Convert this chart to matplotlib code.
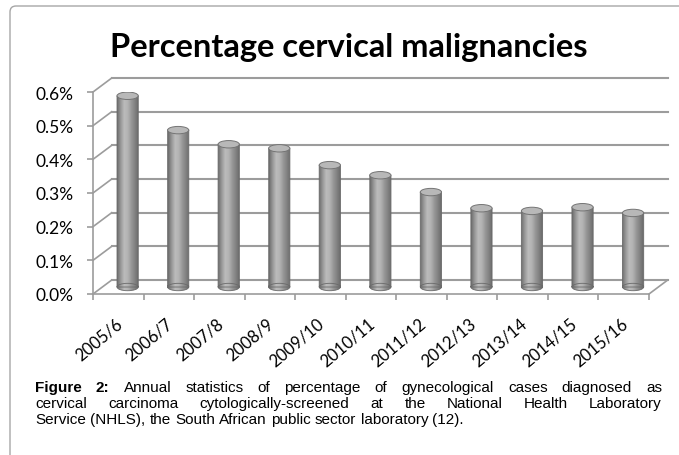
import numpy as np
import matplotlib.pyplot as plt
from matplotlib.path import Path
from matplotlib.patches import PathPatch, Ellipse
from matplotlib.transforms import Affine2D
from matplotlib.colors import LinearSegmentedColormap

# data (values in percent)
categories = ["2005/6", "2006/7", "2007/8", "2008/9", "2009/10", "2010/11",
              "2011/12", "2012/13", "2013/14", "2014/15", "2015/16"]
values = [0.568, 0.466, 0.424, 0.412, 0.362, 0.332, 0.282, 0.234, 0.226, 0.237, 0.220]
y_ticks = [0.0, 0.1, 0.2, 0.3, 0.4, 0.5, 0.6]

title = "Percentage cervical malignancies"
caption_lines = [
    "Figure 2: Annual statistics of percentage of gynecological cases diagnosed as",
    "cervical carcinoma cytologically-screened at the National Health Laboratory",
    "Service (NHLS), the South African public sector laboratory (12).",
]

W, H = 679, 456
GRID = "#9c9c9c"
DEPTH_X = 0.37     # 3d depth offset, in categories
DEPTH_Y = 0.0415   # 3d depth offset, in percent
BAR_W = 0.42
ELL_H = 0.022

chart_font = ["Lato", "DejaVu Sans"]
caption_font = ["Liberation Sans Narrow", "Liberation Sans", "DejaVu Sans"]
CAP_SIZE = 11

fig = plt.figure(figsize=(W / 100, H / 100), dpi=100)
fig.patch.set_facecolor("white")

# outer frame (rounded top-left corner, runs off right and bottom)
r = 6
frame = Path([(W + 5, H - 7), (10 + r, H - 7), (10, H - 7), (10, H - 7 - r), (10, -5)],
             [Path.MOVETO, Path.LINETO, Path.CURVE3, Path.CURVE3, Path.LINETO])
fig.patches.append(PathPatch(frame, transform=None, fill=False, edgecolor="#a6a6a6", lw=1.0))

ax = fig.add_axes([93 / W, 1 - 295 / H, 556 / W, 202 / H])
ax.set_autoscale_on(False)
n = len(categories)
ax.set_xlim(-0.5, n - 0.5)
ax.set_ylim(0, max(y_ticks))
ax.patch.set_visible(False)

# back wall gridlines + side wall diagonals
x_left, x_right = -0.5, n - 0.5
for t in y_ticks:
    ax.plot([x_left + DEPTH_X, x_right + DEPTH_X], [t + DEPTH_Y, t + DEPTH_Y],
            color=GRID, lw=1.5, clip_on=False, zorder=1)
    ax.plot([x_left, x_left + DEPTH_X], [t, t + DEPTH_Y], color=GRID, lw=1.2,
            clip_on=False, zorder=1)
# floor right edge
ax.plot([x_right, x_right + DEPTH_X], [0, DEPTH_Y], color=GRID, lw=1.2, clip_on=False, zorder=1)

for s in ["top", "right"]:
    ax.spines[s].set_visible(False)
for s in ["left", "bottom"]:
    ax.spines[s].set_color(GRID)
    ax.spines[s].set_linewidth(1.2)

ax.set_yticks(y_ticks)
ax.set_yticklabels([f"{t:.1f}%" for t in y_ticks], fontsize=12.5, family=chart_font)
ax.tick_params(axis="y", length=4, width=1.2, color=GRID, pad=10)

ax.set_xticks(np.arange(n + 1) - 0.5)
ax.set_xticklabels([])
ax.tick_params(axis="x", which="major", length=4, width=1.2, color=GRID)
ax.set_xticks(np.arange(n) - 0.07, minor=True)
ax.set_xticklabels(categories, minor=True, rotation=40, ha="right",
                   rotation_mode="anchor", fontsize=12, family=chart_font)
ax.tick_params(axis="x", which="minor", length=0, pad=15)

# cylinders
cyl_cmap = LinearSegmentedColormap.from_list(
    "cyl", ["#6c6c6c", "#999999", "#bcbcbc", "#b2b2b2", "#969696", "#808080", "#686868"])
grad = np.linspace(0, 1, 64).reshape(1, -1)
for i, v in enumerate(values):
    cx = i + DEPTH_X / 2
    base = DEPTH_Y / 2
    top = v + DEPTH_Y / 2
    rect = Path.unit_rectangle().transformed(
        Affine2D().scale(BAR_W, top - base).translate(cx - BAR_W / 2, base))
    bottom = Path.unit_circle().transformed(
        Affine2D().scale(BAR_W / 2, ELL_H / 2).translate(cx, base))
    body = Path.make_compound_path(rect, bottom)
    patch = PathPatch(body, facecolor="none", edgecolor="#6a6a6a", lw=0.6, zorder=3)
    ax.add_patch(patch)
    im = ax.imshow(grad, cmap=cyl_cmap, aspect="auto", interpolation="bilinear",
                   extent=[cx - BAR_W / 2, cx + BAR_W / 2, base - ELL_H / 2, top],
                   zorder=2, clip_on=True)
    im.set_clip_path(patch)
    ax.add_patch(Ellipse((cx, top), BAR_W, ELL_H, facecolor="#b8b8b8",
                         edgecolor="#747474", lw=0.7, zorder=4))

ax.set_xlim(-0.5, n - 0.5)
ax.set_ylim(0, max(y_ticks))

fig.text(349 / W, 1 - 47 / H, title, ha="center", va="center", fontsize=23.5,
         fontweight="bold", family=chart_font)

# caption, justified like the source
renderer = fig.canvas.get_renderer()
cap_x0, cap_x1 = 35, 662
cap_base = [392, 408, 424]
for k, line in enumerate(caption_lines):
    words = line.split(" ")
    texts, widths = [], []
    for j, w in enumerate(words):
        bold = k == 0 and j < 2
        t = fig.text(0, 1 - cap_base[k] / H, w, fontsize=CAP_SIZE, family=caption_font,
                     fontweight="bold" if bold else "normal", va="baseline", ha="left")
        texts.append(t)
        widths.append(t.get_window_extent(renderer).width)
    if k < len(caption_lines) - 1:
        gap = (cap_x1 - cap_x0 - sum(widths)) / (len(words) - 1)
    else:
        sp = fig.text(0, 0, "a a", fontsize=CAP_SIZE, family=caption_font)
        sp2 = fig.text(0, 0, "aa", fontsize=CAP_SIZE, family=caption_font)
        gap = sp.get_window_extent(renderer).width - sp2.get_window_extent(renderer).width
        sp.remove()
        sp2.remove()
    x = cap_x0
    for t, w in zip(texts, widths):
        t.set_x(x / W)
        x += w + gap

fig.savefig("out.png", dpi=100)
